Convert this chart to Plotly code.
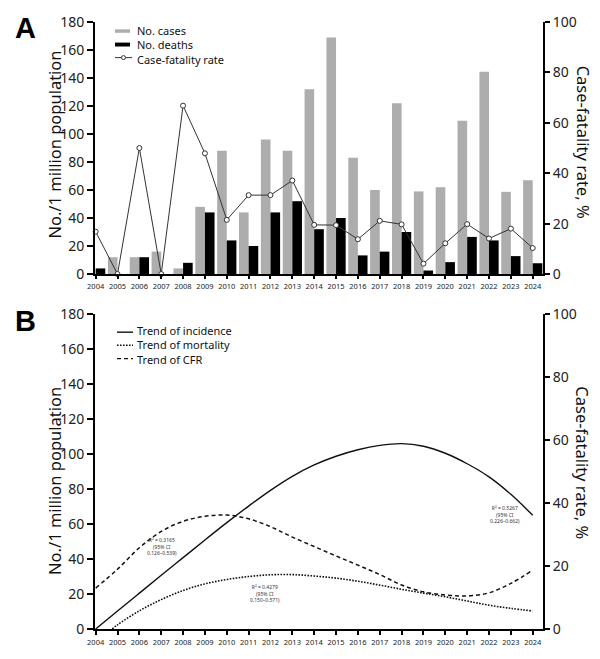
import plotly.graph_objects as go

# ---------------- data ----------------
years = list(range(2004, 2025))
year_labels = [str(y) for y in years]

cases = [0, 12, 12, 16, 4, 48, 88, 44, 96, 88, 132, 169, 83, 60, 122, 59, 62, 109.5, 144.5, 58.7, 67]
deaths = [4, 0, 12, 0, 8, 44, 24, 20, 44, 52, 32, 40, 13.3, 16, 30, 2.5, 8.5, 26.5, 24, 12.8, 7.7]
cfr = [16.8, 0, 50, 0, 66.8, 47.9, 21.5, 31.3, 31.3, 37.1, 19.5, 19.4, 13.8, 21.1, 19.7, 4.1, 12.2, 19.8, 14.1, 18.0, 10.3]

trend_incidence = [0, 10.3, 20.5, 30.7, 40.8, 50.9, 60.8, 70.3, 79.3, 87.3, 93.8, 98.8, 102.5, 105, 106,
                   104.5, 100.5, 94.5, 87, 77, 65]
mortality_years = [2004.76] + list(range(2005, 2025))
trend_mortality = [0, 2.4, 10.4, 16.8, 22, 25.8, 28.3, 30, 31, 31.1, 30.3, 29.1, 27.3, 25.1, 22.7,
                   20.5, 18.4, 16, 13.6, 11.8, 10.3]
trend_cfr = [13, 19, 25.8, 31, 34.2, 35.8, 36.2, 35, 32.5, 29.2, 26.2, 23.2, 20.3, 17.3, 14,
             11.8, 10.8, 10.5, 11.5, 14.5, 18.7]

left_ticks = [0, 20, 40, 60, 80, 100, 120, 140, 160, 180]
right_ticks = [0, 20, 40, 60, 80, 100]

legend_a = ["No. cases", "No. deaths", "Case-fatality rate"]
legend_b = ["Trend of incidence", "Trend of mortality", "Trend of CFR"]
r2_labels = [
    "R² = 0.3165<br>(95% CI<br>0.126–0.539)",
    "R² = 0.4279<br>(95% CI<br>0.150–0.571)",
    "R² = 0.5267<br>(95% CI<br>0.226–0.662)",
]

# ---------------- layout helpers ----------------
W, H = 600, 659
L, R, T, B = 95, 57, 16, 24
PW, PH = W - L - R, H - T - B


def px(x):
    return (x - L) / PW


def py(y):
    return (H - B - y) / PH


FONT = "Noto Sans"
GRAY = "#adadad"
DASH = "4px,3px"
DOT = "1.6px,1.4px"

fig = go.Figure()

# ---------------- panel A ----------------
fig.add_trace(go.Bar(x=years, y=cases, width=0.44, offset=-0.44, marker_color=GRAY,
                     marker_line_width=0, xaxis="x", yaxis="y", name=legend_a[0]))
fig.add_trace(go.Bar(x=years, y=deaths, width=0.44, offset=0, marker_color="#000000",
                     marker_line_width=0, xaxis="x", yaxis="y", name=legend_a[1]))
fig.add_trace(go.Scatter(x=years, y=cfr, mode="lines+markers", xaxis="x", yaxis="y2",
                         line=dict(color="#333333", width=1),
                         marker=dict(symbol="circle", size=5, color="white",
                                     line=dict(color="#333333", width=1)),
                         cliponaxis=False, name=legend_a[2]))

# ---------------- panel B ----------------
fig.add_trace(go.Scatter(x=years, y=trend_incidence, mode="lines", xaxis="x2", yaxis="y3",
                         line=dict(color="#111111", width=1.4, shape="spline"),
                         name=legend_b[0]))
fig.add_trace(go.Scatter(x=mortality_years, y=trend_mortality, mode="lines", xaxis="x2", yaxis="y3",
                         line=dict(color="#111111", width=1.6, dash=DOT, shape="spline"),
                         name=legend_b[1]))
fig.add_trace(go.Scatter(x=years, y=trend_cfr, mode="lines", xaxis="x2", yaxis="y4",
                         line=dict(color="#111111", width=1.5, dash=DASH, shape="spline"),
                         name=legend_b[2]))

yA0 = py(273)
yB1 = py(314)
xrange_ = [2003.97, 2024.47]

common_x = dict(range=xrange_, tickvals=years, ticktext=year_labels, showgrid=False, zeroline=False,
                showline=True, linecolor="black", linewidth=2, ticks="outside", tickcolor="black",
                tickwidth=1.5, tickfont=dict(family=FONT, size=7.5, color="#222222"), ticklabelstandoff=1)
common_yl = dict(showgrid=False, zeroline=False, showline=True, linecolor="black", linewidth=2,
                 ticks="outside", ticklen=6, tickwidth=2, tickcolor="black",
                 tickfont=dict(family=FONT, size=14, color="#222222"), range=[0, 180], tickvals=left_ticks)
common_yr = dict(showgrid=False, zeroline=False, showline=True, linecolor="black", linewidth=2,
                 ticks="outside", ticklen=5, tickwidth=2, tickcolor="black", side="right",
                 tickfont=dict(family=FONT, size=14, color="#222222"), range=[0, 100], tickvals=right_ticks)

fig.update_layout(
    width=W, height=H, autosize=False,
    margin=dict(l=L, r=R, t=T, b=B, pad=0),
    plot_bgcolor="white", paper_bgcolor="white",
    showlegend=False, barmode="overlay",
    xaxis=dict(domain=[0, 1], anchor="y", ticklen=3, **common_x),
    yaxis=dict(domain=[yA0, 1], anchor="x", **common_yl),
    yaxis2=dict(overlaying="y", anchor="x", **common_yr),
    xaxis2=dict(domain=[0, 1], anchor="y3", ticklen=4, **common_x),
    yaxis3=dict(domain=[0, yB1], anchor="x2", **common_yl),
    yaxis4=dict(overlaying="y3", anchor="x2", **common_yr),
)

ann = []
shapes = []


def text(x, y, s, size, xanchor="center", angle=0, bold=False, color="#111", family=FONT, align="center"):
    ann.append(dict(x=px(x), y=py(y), xref="paper", yref="paper", text=("<b>%s</b>" % s) if bold else s,
                    showarrow=False, xanchor=xanchor, yanchor="middle", textangle=angle, align=align,
                    font=dict(family=family, size=size, color=color)))


# panel letters
text(25, 22, "A", 29, bold=True, family="Liberation Sans", color="#000")
text(25, 321, "B", 29, bold=True, family="Liberation Sans", color="#000")

# axis titles
text(55, 141, "No./1 million population", 16.5, angle=-90)
text(55, 484, "No./1 million population", 16.5, angle=-90)
text(583, 138, "Case-fatality rate, %", 16.5, angle=90)
text(583, 465, "Case-fatality rate, %", 16.5, angle=90)

# legend A
shapes.append(dict(type="rect", xref="paper", yref="paper", x0=px(115), x1=px(130), y0=py(23.5), y1=py(27),
                   fillcolor=GRAY, line=dict(width=0)))
shapes.append(dict(type="rect", xref="paper", yref="paper", x0=px(115), x1=px(130), y0=py(37), y1=py(41),
                   fillcolor="black", line=dict(width=0)))
shapes.append(dict(type="line", xref="paper", yref="paper", x0=px(115), x1=px(132), y0=py(52.3), y1=py(52.3),
                   line=dict(color="#333", width=1)))
shapes.append(dict(type="circle", xref="paper", yref="paper", x0=px(121.5), x1=px(125.5), y0=py(50.3),
                   y1=py(54.3), fillcolor="white", line=dict(color="#333", width=1)))
text(135, 39, "<br>".join(legend_a), 11, xanchor="left", align="left")

# legend B
for yy, dash in [(332.3, "solid"), (345.7, DOT), (359.3, DASH)]:
    shapes.append(dict(type="line", xref="paper", yref="paper", x0=px(117), x1=px(133), y0=py(yy), y1=py(yy),
                       line=dict(color="#111", width=1.4, dash=dash)))
text(135, 345.7, "<br>".join(legend_b), 11, xanchor="left", align="left")

# R² annotations
text(161.7, 551, r2_labels[0], 5, color="#333")
text(265, 599, r2_labels[1], 5, color="#333")
text(505, 518.5, r2_labels[2], 5, color="#333")

fig.update_layout(annotations=ann, shapes=shapes)

fig.write_html("out.html")
